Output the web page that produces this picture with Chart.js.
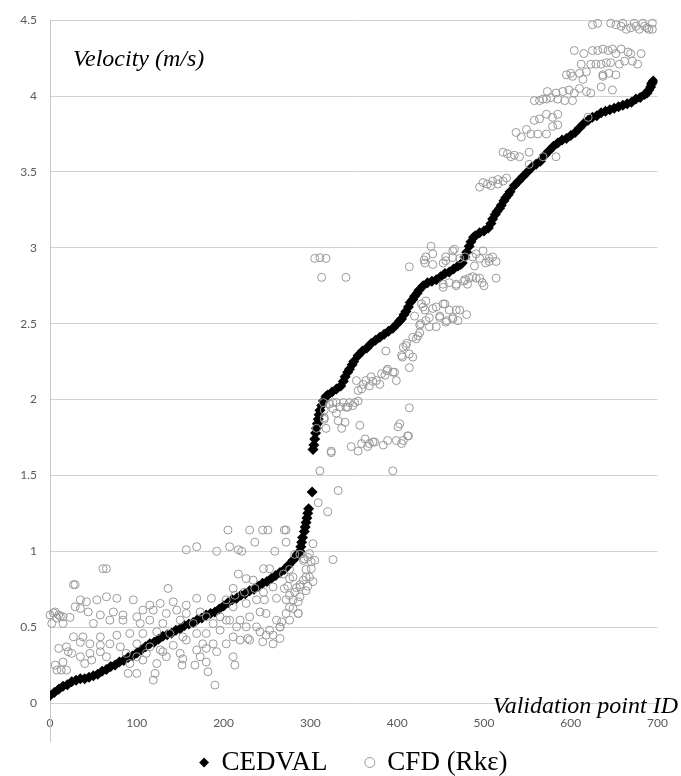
<!DOCTYPE html>
<html>
<head>
<meta charset="utf-8">
<title>CEDVAL vs CFD velocity</title>
<script src="https://cdn.jsdelivr.net/npm/chart.js@4.4.0/dist/chart.umd.min.js"></script>
<style>
    html, body { margin: 0; padding: 0; background: #fff; }
    #wrap { width: 681px; height: 776px; position: relative; }
</style>
</head>
<body>
<div id="wrap"><canvas id="velChart"></canvas></div>
<script>
// Подписи и оси
const seriesNames = ['CEDVAL', 'CFD (Rkε)'];
const yTitle = 'Velocity (m/s)';
const xTitle = 'Validation point ID';
const xTicks = [0, 100, 200, 300, 400, 500, 600, 700];
const yTicks = [0, 0.5, 1, 1.5, 2, 2.5, 3, 3.5, 4, 4.5];

// CEDVAL: [id, скорость], отсортированная кривая
const cedvalPoints = [
    [0,0.05],[5,0.07],[10,0.09],[15,0.11],[20,0.12],[25,0.14],[30,0.15],[35,0.16],[40,0.16],[45,0.17],
    [50,0.18],[55,0.19],[60,0.21],[65,0.22],[70,0.24],[75,0.25],[80,0.27],[85,0.28],[90,0.30],[95,0.31],
    [100,0.33],[105,0.35],[110,0.37],[115,0.39],[120,0.40],[125,0.42],[130,0.44],[135,0.45],[140,0.46],[145,0.48],
    [150,0.49],[155,0.51],[160,0.52],[165,0.53],[170,0.55],[175,0.56],[180,0.58],[185,0.59],[190,0.60],[195,0.62],
    [200,0.64],[205,0.66],[210,0.68],[215,0.69],[220,0.71],[225,0.72],[230,0.74],[235,0.75],[240,0.77],[245,0.79],
    [250,0.80],[255,0.82],[260,0.84],[265,0.86],[270,0.88],[275,0.91],[280,0.94],[283,0.96],[285,0.98],[287,0.99],
    [288,1.00],[289,1.03],[290,1.06],[291,1.09],[293,1.13],[294,1.16],[295,1.19],[296,1.22],[297,1.25],[298,1.28],
    [302,1.39],[303,1.67],[304,1.70],[305,1.74],[306,1.78],[307,1.81],[308,1.84],[309,1.87],[310,1.90],[311,1.93],
    [313,1.96],[315,1.99],[318,2.02],[320,2.03],[325,2.05],[330,2.07],[335,2.09],[338,2.12],[340,2.15],[343,2.18],
    [345,2.20],[348,2.23],[350,2.25],[355,2.29],[360,2.32],[365,2.34],[370,2.37],[375,2.39],[380,2.41],[385,2.43],
    [390,2.45],[395,2.47],[400,2.50],[403,2.52],[405,2.53],[408,2.56],[410,2.58],[413,2.61],[415,2.64],[418,2.66],
    [420,2.68],[423,2.70],[425,2.72],[430,2.75],[435,2.77],[440,2.78],[445,2.79],[450,2.81],[455,2.83],[460,2.84],
    [465,2.86],[470,2.88],[473,2.89],[475,2.90],[478,2.94],[480,2.97],[483,3.01],[485,3.04],[488,3.07],[490,3.08],
    [495,3.10],[500,3.11],[505,3.13],[508,3.16],[510,3.19],[513,3.22],[515,3.24],[518,3.26],[520,3.28],[523,3.31],
    [525,3.33],[528,3.35],[530,3.37],[535,3.41],[540,3.44],[545,3.47],[550,3.50],[555,3.53],[560,3.55],[565,3.57],
    [570,3.61],[575,3.64],[580,3.67],[585,3.69],[590,3.71],[595,3.72],[600,3.74],[605,3.76],[610,3.79],[615,3.82],
    [620,3.84],[625,3.86],[630,3.87],[635,3.89],[640,3.90],[645,3.91],[650,3.92],[655,3.93],[660,3.94],[665,3.95],
    [670,3.96],[675,3.98],[680,3.99],[685,4.01],[688,4.02],[690,4.04],[692,4.06],[693,4.08],[694,4.09],[695,4.10]
];

// CFD (Rkε): точки 0-300
const cfdLow = [
    [205,1.14],[230,1.14],[245,1.14],[251,1.14],[270,1.14],[272,1.14],[157,1.01],[169,1.03],[192,1.0],[207,1.03],
    [217,1.01],[221,1.0],[236,1.06],[259,1.0],[272,1.06],[282,0.98],[61,0.885],[65,0.885],[27,0.78],[29,0.78],
    [246,0.885],[253,0.885],[217,0.85],[226,0.82],[234,0.81],[269,0.85],[276,0.82],[288,0.765],[295,0.74],[295,0.83],
    [292,0.94],[299,0.985],[136,0.755],[211,0.755],[213,0.71],[224,0.73],[236,0.755],[246,0.73],[257,0.765],[270,0.755],
    [276,0.71],[282,0.73],[286,0.667],[272,0.68],[261,0.69],[247,0.68],[238,0.68],[226,0.656],[211,0.634],[203,0.68],
    [186,0.69],[169,0.69],[157,0.645],[142,0.667],[127,0.656],[115,0.645],[96,0.68],[77,0.69],[65,0.7],[54,0.68],
    [42,0.667],[35,0.68],[29,0.634],[35,0.623],[44,0.6],[58,0.58],[73,0.6],[84,0.58],[100,0.568],[107,0.612],
    [119,0.612],[134,0.59],[146,0.612],[157,0.59],[173,0.6],[180,0.568],[196,0.568],[207,0.546],[219,0.546],[230,0.568],
    [242,0.6],[249,0.59],[261,0.546],[272,0.59],[280,0.623],[286,0.59],[4,0.594],[10,0.58],[15,0.568],[23,0.564],
    [0,0.58],[6,0.6],[8,0.56],[12,0.57],[2,0.524],[15,0.524],[50,0.524],[69,0.546],[84,0.546],[104,0.524],
    [115,0.546],[130,0.524],[150,0.546],[165,0.524],[188,0.524],[203,0.546],[215,0.502],[226,0.502],[238,0.502],[253,0.48],
    [265,0.502],[276,0.546],[267,0.535],[27,0.436],[38,0.436],[58,0.436],[77,0.447],[92,0.458],[107,0.458],[123,0.469],
    [138,0.458],[153,0.436],[169,0.458],[180,0.458],[196,0.48],[211,0.436],[228,0.425],[242,0.469],[249,0.447],[257,0.447],
    [265,0.425],[257,0.39],[10,0.36],[19,0.37],[35,0.4],[46,0.39],[58,0.38],[69,0.39],[81,0.37],[100,0.39],
    [115,0.37],[127,0.35],[142,0.38],[157,0.415],[176,0.39],[188,0.39],[203,0.39],[219,0.415],[230,0.415],[245,0.403],
    [21,0.338],[25,0.327],[35,0.305],[46,0.327],[58,0.338],[65,0.305],[88,0.327],[100,0.305],[111,0.327],[130,0.338],
    [134,0.305],[150,0.327],[169,0.349],[180,0.36],[192,0.338],[211,0.305],[173,0.305],[92,0.26],[107,0.283],[40,0.26],
    [48,0.283],[123,0.26],[152,0.25],[167,0.25],[213,0.25],[6,0.25],[15,0.27],[8,0.217],[13,0.217],[19,0.217],
    [90,0.195],[100,0.195],[121,0.195],[119,0.151],[182,0.206],[190,0.118],[153,0.29],[180,0.27],[288,0.98],[293,0.95],
    [297,0.96],[301,0.93],[295,0.88],[299,0.83],[292,0.81],[288,0.78],[297,0.77],[276,0.88],[280,0.83],[274,0.77],
    [284,0.76],[288,0.7],[280,0.68],[286,0.59],[276,0.63],[265,0.5]
];

// CFD (Rkε): точки 300-520
const cfdMid = [
    [303,1.05],[326,0.945],[303,0.8],[301,0.885],[305,0.94],[305,2.93],[311,2.935],[318,2.93],[313,2.805],[341,2.805],
    [414,2.875],[439,3.01],[433,2.94],[441,2.96],[432,2.9],[441,2.89],[456,2.915],[464,2.935],[466,2.99],[453,2.9],
    [431,2.92],[420,2.55],[426,2.49],[432,2.59],[437,2.54],[445,2.48],[449,2.54],[456,2.51],[464,2.54],[428,2.63],
    [441,2.6],[455,2.63],[468,2.59],[433,2.65],[430,2.61],[445,2.61],[453,2.63],[460,2.59],[472,2.59],[480,2.56],
    [449,2.55],[457,2.52],[433,2.52],[427,2.5],[437,2.48],[464,2.53],[470,2.52],[426,2.44],[418,2.41],[411,2.37],
    [387,2.32],[405,2.29],[410,2.355],[418,2.28],[414,2.21],[422,2.4],[424,2.42],[407,2.345],[406,2.28],[414,2.3],
    [353,2.125],[361,2.1],[364,2.125],[370,2.15],[376,2.125],[382,2.17],[389,2.2],[395,2.18],[399,2.125],[359,2.07],
    [368,2.09],[380,2.1],[386,2.16],[397,2.18],[355,2.06],[372,2.12],[388,2.19],[315,1.98],[322,1.97],[330,1.98],
    [338,1.98],[345,1.98],[351,1.98],[326,1.94],[334,1.95],[343,1.95],[349,1.96],[316,1.93],[330,1.91],[316,1.87],
    [332,1.86],[340,1.85],[318,1.81],[336,1.81],[307,1.81],[355,1.99],[341,1.95],[326,1.98],[414,1.945],[357,1.83],
    [403,1.84],[401,1.82],[412,1.76],[407,1.73],[399,1.73],[389,1.73],[384,1.70],[374,1.72],[368,1.71],[363,1.74],
    [359,1.71],[355,1.66],[347,1.69],[324,1.66],[366,1.69],[372,1.72],[405,1.71],[413,1.76],[311,1.53],[395,1.53],
    [332,1.4],[309,1.32],[320,1.26],[316,1.88],[324,1.65],[489,2.88],[502,2.9],[506,2.91],[514,2.91],[460,2.77],
    [468,2.75],[477,2.78],[483,2.8],[487,2.81],[495,2.8],[498,2.77],[500,2.75],[514,2.8],[453,2.76],[481,2.76],
    [456,2.94],[464,2.98],[472,2.93],[478,2.94],[487,2.94],[495,2.93],[499,2.98],[506,2.93],[510,2.94],[491,2.96],
    [491,2.8],[478,2.79],[453,2.74],[468,2.76]
];

// CFD (Rkε): точки 490-700
const cfdHigh = [
    [625,4.47],[631,4.48],[646,4.48],[652,4.47],[658,4.46],[664,4.44],[669,4.45],[675,4.46],[679,4.44],[685,4.46],
    [688,4.45],[694,4.48],[660,4.48],[673,4.48],[683,4.48],[690,4.44],[694,4.44],[604,4.3],[615,4.28],[625,4.3],
    [631,4.3],[637,4.31],[643,4.3],[648,4.31],[652,4.28],[658,4.31],[666,4.29],[669,4.28],[681,4.28],[612,4.21],
    [623,4.21],[629,4.21],[635,4.21],[641,4.22],[646,4.22],[656,4.21],[662,4.23],[671,4.23],[677,4.21],[595,4.14],
    [600,4.15],[610,4.15],[618,4.16],[637,4.14],[644,4.15],[652,4.14],[637,4.13],[602,4.13],[614,4.11],[635,4.06],
    [648,4.04],[573,4.03],[583,4.02],[591,4.03],[598,4.04],[604,4.02],[610,4.05],[618,4.03],[623,4.02],[558,3.97],
    [564,3.97],[572,3.98],[577,3.99],[585,3.98],[593,3.97],[602,3.97],[568,3.98],[537,3.76],[543,3.73],[549,3.78],
    [554,3.75],[558,3.84],[564,3.85],[572,3.88],[579,3.86],[585,3.88],[585,3.81],[579,3.8],[562,3.75],[572,3.75],
    [620,3.86],[522,3.63],[527,3.62],[531,3.6],[535,3.61],[541,3.6],[552,3.63],[583,3.6],[568,3.6],[552,3.55],
    [495,3.4],[499,3.43],[504,3.42],[510,3.44],[516,3.42],[522,3.44],[526,3.46],[508,3.41],[516,3.45]
];

const toXY = arr => arr.map(p => ({ x: p[0], y: p[1] }));

// Ось Y у Excel продолжается ниже подписей, плюс курсивные подписи осей
const axisDecor = {
    id: 'axisDecor',
    beforeDatasetsDraw(chart) {
        const ctx = chart.ctx;
        const area = chart.chartArea;
        ctx.save();
        ctx.strokeStyle = '#c6c6c6';
        ctx.lineWidth = 1;
        ctx.beginPath();
        ctx.moveTo(Math.round(area.left) + 0.5, area.top);
        ctx.lineTo(Math.round(area.left) + 0.5, area.bottom + 39);
        ctx.stroke();
        ctx.restore();
    },
    afterDraw(chart) {
        const ctx = chart.ctx;
        ctx.save();
        ctx.fillStyle = '#000';
        ctx.font = 'italic 24px "Liberation Serif", serif';
        ctx.textBaseline = 'alphabetic';
        ctx.textAlign = 'left';
        ctx.fillText(yTitle, 73, 66);
        ctx.textAlign = 'right';
        ctx.fillText(xTitle, 678, 713);
        ctx.restore();
    }
};

document.addEventListener('DOMContentLoaded', function() {
    const ctx = document.getElementById('velChart').getContext('2d');

    new Chart(ctx, {
        type: 'scatter',
        data: {
            datasets: [{
                label: seriesNames[0],
                data: toXY(cedvalPoints),
                pointStyle: 'rectRot',
                pointRadius: 5.5,
                pointHoverRadius: 5.5,
                backgroundColor: '#000',
                borderColor: '#000',
                borderWidth: 0,
                order: 2
            }, {
                label: seriesNames[1],
                data: toXY(cfdLow.concat(cfdMid, cfdHigh)),
                pointStyle: 'circle',
                pointRadius: 4,
                pointHoverRadius: 4,
                backgroundColor: 'rgba(0,0,0,0)',
                borderColor: '#999999',
                borderWidth: 1,
                clip: false,
                order: 1
            }]
        },
        options: {
            responsive: true,
            maintainAspectRatio: false,
            animation: false,
            devicePixelRatio: 1,
            layout: { padding: { left: 0, right: 22, top: 20, bottom: 0 } },
            plugins: {
                tooltip: { enabled: false },
                legend: {
                    position: 'bottom',
                    fullSize: false,
                    maxHeight: 45,
                    labels: {
                        usePointStyle: true,
                        boxWidth: 8,
                        boxHeight: 7,
                        padding: 18,
                        color: '#000',
                        font: { family: '"Liberation Serif", serif', size: 27 },
                        sort: (a, b) => a.datasetIndex - b.datasetIndex,
                        generateLabels(chart) {
                            const items = Chart.defaults.plugins.legend.labels.generateLabels(chart);
                            // немного воздуха между двумя элементами легенды
                            items.forEach(it => { if (it.datasetIndex === 0) it.text = it.text + '   '; });
                            return items;
                        }
                    }
                }
            },
            scales: {
                x: {
                    type: 'linear',
                    min: xTicks[0],
                    max: xTicks[xTicks.length - 1],
                    afterFit: s => { s.height = 28; },
                    afterBuildTicks: s => { s.ticks = xTicks.map(v => ({ value: v })); },
                    grid: { display: false, drawTicks: false },
                    border: { display: false },
                    ticks: {
                        padding: 13,
                        color: '#595959',
                        font: { family: 'Lato', size: 12 },
                        callback: v => String(v)
                    }
                },
                y: {
                    type: 'linear',
                    min: yTicks[0],
                    max: yTicks[yTicks.length - 1],
                    afterFit: s => { s.width = 50; },
                    afterBuildTicks: s => { s.ticks = yTicks.map(v => ({ value: v })); },
                    grid: { color: '#d2d2d2', lineWidth: 1, drawTicks: false },
                    border: { display: false },
                    ticks: {
                        padding: 13,
                        color: '#595959',
                        font: { family: 'Lato', size: 12 },
                        callback: v => String(v)
                    }
                }
            }
        },
        plugins: [axisDecor]
    });
});
</script>
</body>
</html>
